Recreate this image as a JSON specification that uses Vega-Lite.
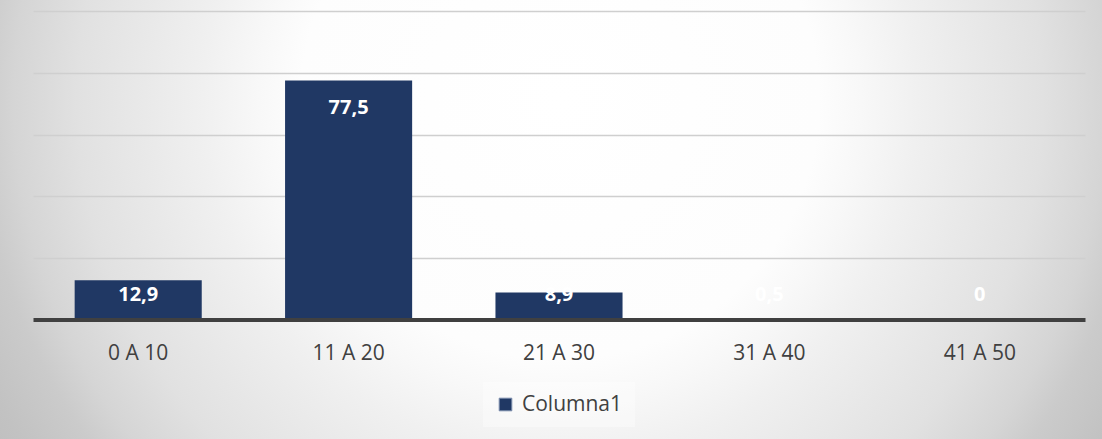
{
  "$schema": "https://vega.github.io/schema/vega-lite/v6.json",
  "width": 1102,
  "height": 439,
  "padding": 0,
  "autosize": {"type": "none"},
  "background": "#d0d0d0",
  "config": {
    "font": "Open Sans",
    "locale": {"number": {"decimal": ",", "thousands": ".", "grouping": [3], "currency": ["", " €"]}},
    "view": {
      "stroke": null,
      "fill": {
        "gradient": "radial",
        "x1": 0.5082, "y1": 0.3916, "r1": 0,
        "x2": 0.5082, "y2": 0.3916, "r2": 0.6352,
        "stops": [
          {"offset": 0, "color": "#ffffff"},
          {"offset": 0.37, "color": "#fdfdfd"},
          {"offset": 0.43, "color": "#f8f8f8"},
          {"offset": 0.51, "color": "#f0f0f0"},
          {"offset": 0.69, "color": "#e1e1e1"},
          {"offset": 0.78, "color": "#d5d5d5"},
          {"offset": 0.83, "color": "#cbcbcb"},
          {"offset": 0.91, "color": "#c2c2c2"},
          {"offset": 1, "color": "#bcbcbc"}
        ]
      }
    }
  },
  "data": {
    "values": [
      {"rango": "0 A 10", "valor": 12.9},
      {"rango": "11 A 20", "valor": 77.5},
      {"rango": "21 A 30", "valor": 8.9},
      {"rango": "31 A 40", "valor": 0.5},
      {"rango": "41 A 50", "valor": 0}
    ]
  },
  "layer": [
    {
      "mark": {"type": "bar"},
      "encoding": {
        "x": {
          "field": "rango",
          "type": "nominal",
          "sort": null,
          "scale": {"range": [33, 1085], "paddingInner": 0.396, "paddingOuter": 0.198},
          "axis": {
            "title": null,
            "orient": "bottom",
            "offset": -119.5,
            "domainColor": "#404040",
            "domainWidth": 4,
            "ticks": false,
            "grid": false,
            "labelAngle": 0,
            "labelFontSize": 21,
            "labelColor": "#404040",
            "labelPadding": 22.5,
            "zindex": 1
          }
        },
        "y": {
          "field": "valor",
          "type": "quantitative",
          "scale": {"domain": [0, 100], "range": [320, 11], "nice": false},
          "axis": {
            "title": null,
            "orient": "left",
            "offset": -33,
            "labels": false,
            "domain": false,
            "grid": false,
            "ticks": true,
            "tickSize": -1052,
            "tickColor": "#cfcfcf",
            "tickWidth": 1.5,
            "values": [20, 40, 60, 80, 100],
            "zindex": 0
          }
        },
        "color": {
          "datum": "Columna1",
          "type": "nominal",
          "scale": {"range": ["#203864"]},
          "legend": {
            "title": null,
            "orient": "none",
            "legendX": 483,
            "legendY": 382,
            "symbolType": "square",
            "symbolSize": 160,
            "symbolStrokeColor": "#7d8fae",
            "symbolStrokeWidth": 1,
            "labelFontSize": 21,
            "labelColor": "#404040",
            "labelOffset": 6,
            "padding": 12,
            "fillColor": "rgba(255,255,255,0.35)"
          }
        }
      }
    },
    {
      "mark": {"type": "text", "color": "#ffffff", "fontWeight": "bold", "fontSize": 20, "baseline": "middle", "dy": 27.3},
      "encoding": {
        "x": {"field": "rango", "type": "nominal", "sort": null},
        "y": {
          "field": "valor",
          "type": "quantitative",
          "scale": {"domain": [16.9, 100], "range": [267.7, 11], "clamp": true, "nice": false, "zero": false},
          "axis": null
        },
        "text": {"field": "valor", "type": "quantitative", "format": ".1~f"}
      }
    }
  ],
  "resolve": {"scale": {"y": "independent"}}
}
